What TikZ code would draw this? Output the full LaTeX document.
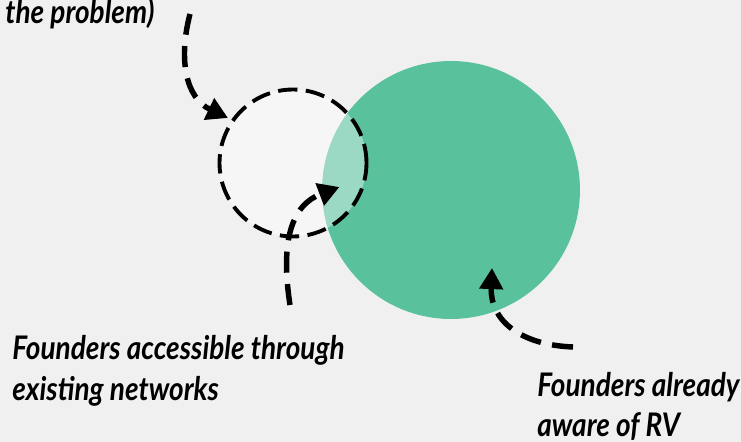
\documentclass[tikz,border=0pt]{standalone}
\usepackage{fontspec}
\newfontfamily\handfont{Lato}[FakeStretch=0.86]
\usepackage{xcolor}
\usetikzlibrary{arrows.meta, positioning}
\definecolor{bgcol}{HTML}{F0F0F0}
\definecolor{rvgreen}{HTML}{5AC19D}

\begin{document}
\begin{tikzpicture}[
    x=0.02cm, y=-0.02cm,
    setnode/.style={circle, inner sep=0pt, minimum size=#1},
    lbl/.style={font=\handfont\bfseries\itshape\fontsize{18.5}{23.3}\selectfont,
        align=left, anchor=base west, inner sep=0pt},
    pointer/.style={line width=3.1pt, dash pattern=on 12pt off 6.5pt,
        -{Triangle[length=12pt, width=13pt]}},
]
%% ========== CANVAS ==========
\fill[bgcol] (0,0) rectangle (741,442);
\useasboundingbox (0,0) rectangle (741,442);

%% ========== THE TWO SETS ==========
\node[setnode=5.16cm, fill=rvgreen] (aware) at (451,190) {};
\node[setnode=2.94cm, fill=white, fill opacity=0.4,
    draw=black, draw opacity=1, line width=2.2pt,
    dash pattern=on 11pt off 4.8pt] (network) at (293,163) {};

%% ========== LABELS ==========
%% (base anchor sits on the last line)
\node[lbl] (problem) at (5,24) {the problem)};
\node[lbl] (access) at (12,400) {Founders accessible through\\existing networks};
\node[lbl] (already) at (537,437) {Founders already\\aware of RV};

%% ========== POINTERS ==========
\coordinate (p1) at (190,14);
\coordinate (p2) at (290,305);
\coordinate (p3) at (573,347);
\draw[pointer] (p1) .. controls (178,60) and (186,98) .. ([shift={(-65,-45)}]network.center);
\draw[pointer] (p2) .. controls (280,240) and (292,205) .. ([shift={(-29,24)}]network.east);
\draw[pointer] (p3) .. controls (520,345) and (490,320) .. ([shift={(41,78)}]aware.center);
\end{tikzpicture}
\end{document}
